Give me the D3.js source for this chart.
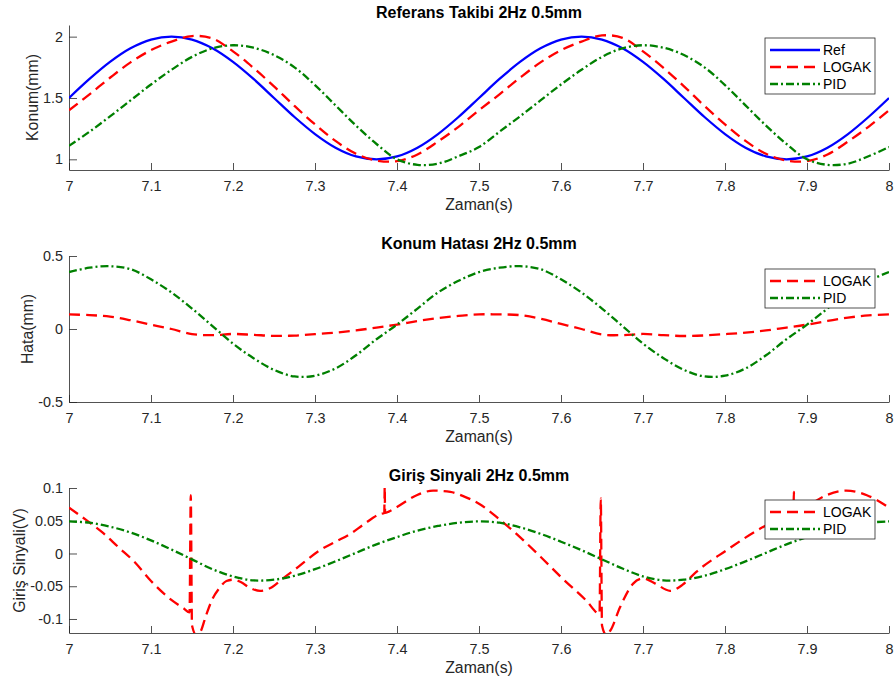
<!DOCTYPE html>
<html>
<head>
<meta charset="utf-8">
<script src="https://cdn.jsdelivr.net/npm/d3@7"></script>
<style>
body{margin:0;background:#fff;}
svg{display:block;font-family:"Liberation Sans",Arial,sans-serif;}
</style>
</head>
<body>
<script>
// time grid of the sampled curves (s)
var tGrid = [7.000,7.025,7.050,7.075,7.100,7.125,7.150,7.175,7.200,7.225,7.250,7.275,7.300,7.325,7.350,7.375,7.400,7.425,7.450,7.475,
  7.500,7.525,7.550,7.575,7.600,7.625,7.650,7.675,7.700,7.725,7.750,7.775,7.800,7.825,7.850,7.875,7.900,7.925,7.950,7.975,8.000];
var xTicks = [7,7.1,7.2,7.3,7.4,7.5,7.6,7.7,7.8,7.9,8];

// panel 1: position (mm)
var refPos = [1.500,1.655,1.794,1.905,1.976,2.000,1.976,1.905,1.794,1.655,1.500,1.345,1.206,1.095,1.024,1.000,1.024,1.095,1.206,1.345,
  1.500,1.655,1.794,1.905,1.976,2.000,1.976,1.905,1.794,1.655,1.500,1.345,1.206,1.095,1.024,1.000,1.024,1.095,1.206,1.345,1.500];
var logakPos = [1.40,1.53,1.665,1.79,1.89,1.96,2.005,1.985,1.88,1.745,1.595,1.435,1.285,1.15,1.045,0.99,0.985,1.04,1.145,1.265,
  1.40,1.53,1.665,1.79,1.89,1.96,2.01,1.99,1.88,1.745,1.595,1.435,1.285,1.15,1.045,0.99,0.985,1.04,1.145,1.265,1.40];
var pidPos = [1.11,1.225,1.35,1.48,1.61,1.73,1.835,1.905,1.93,1.91,1.85,1.75,1.605,1.44,1.275,1.125,1.00,0.955,0.965,1.025,
  1.10,1.225,1.35,1.48,1.61,1.73,1.835,1.905,1.93,1.91,1.85,1.75,1.605,1.44,1.275,1.125,1.00,0.955,0.965,1.025,1.10];

// panel 2: error (mm)
var logakErr = [0.10,0.095,0.085,0.06,0.03,0.0,-0.035,-0.042,-0.034,-0.04,-0.047,-0.045,-0.035,-0.025,-0.01,0.01,0.03,0.055,0.075,0.09,
  0.10,0.10,0.095,0.07,0.035,0.0,-0.038,-0.042,-0.034,-0.042,-0.048,-0.044,-0.035,-0.025,-0.01,0.01,0.03,0.055,0.078,0.093,0.10];
var pidErr = [0.39,0.42,0.43,0.41,0.34,0.25,0.14,0.02,-0.10,-0.20,-0.28,-0.325,-0.32,-0.27,-0.18,-0.07,0.03,0.14,0.25,0.33,
  0.39,0.42,0.43,0.41,0.34,0.25,0.14,0.02,-0.10,-0.20,-0.28,-0.325,-0.32,-0.27,-0.18,-0.07,0.03,0.14,0.25,0.33,0.39];

// panel 3: input signal (V)
var tLogakU = [7.000,7.020,7.040,7.060,7.080,7.100,7.120,7.140,7.147,7.1485,7.150,7.155,7.160,7.167,7.174,7.184,7.192,7.200,7.210,7.220,
  7.233,7.245,7.261,7.280,7.306,7.325,7.343,7.360,7.379,7.3845,7.385,7.3855,7.390,7.400,7.424,7.444,7.465,7.480,7.500,7.525,
  7.550,7.575,7.600,7.631,7.647,7.6485,7.650,7.655,7.660,7.672,7.688,7.700,7.715,7.733,7.748,7.765,7.802,7.843,7.865,7.883,
  7.8835,7.884,7.8845,7.900,7.924,7.948,7.973,8.000];
var logakU = [0.070,0.052,0.033,0.010,-0.013,-0.042,-0.066,-0.084,-0.090,0.089,-0.110,-0.124,-0.120,-0.095,-0.072,-0.052,-0.042,-0.040,-0.044,-0.052,
  -0.057,-0.053,-0.038,-0.020,0.005,0.018,0.030,0.045,0.060,0.062,0.102,0.062,0.064,0.071,0.089,0.096,0.094,0.088,0.076,0.052,
  0.025,-0.005,-0.036,-0.072,-0.092,0.084,-0.110,-0.124,-0.118,-0.082,-0.046,-0.038,-0.046,-0.057,-0.048,-0.028,0.005,0.038,0.052,0.060,
  0.062,0.094,0.062,0.072,0.089,0.096,0.089,0.070];
var pidU = [0.049,0.047,0.041,0.032,0.020,0.006,-0.009,-0.024,-0.035,-0.041,-0.040,-0.034,-0.024,-0.012,0.001,0.014,0.025,0.035,0.042,0.047,
  0.049,0.047,0.040,0.030,0.018,0.005,-0.009,-0.023,-0.035,-0.041,-0.040,-0.034,-0.024,-0.012,0.001,0.014,0.025,0.035,0.042,0.047,0.049];

var styleRef = {name:"Ref", color:"#0000ff", dash:null};
var styleLogak = {name:"LOGAK", color:"#ff0000", dash:"11,6"};
var stylePid = {name:"PID", color:"#008000", dash:"8,3,2,3"};

var width = 895, height = 683,
    left = 69, right = 889,
    axisColor = "#262626";

var svg = d3.select("body").append("svg")
  .attr("width", width)
  .attr("height", height);

var x = d3.scaleLinear().domain([7, 8]).range([left, right]);

function drawPanel(p, idx){
  var y = d3.scaleLinear().domain(p.yDomain).range([p.bottom, p.top]);
  var g = svg.append("g");

  g.append("clipPath").attr("id", "clip" + idx)
    .append("rect")
    .attr("x", left).attr("y", p.top)
    .attr("width", right - left).attr("height", p.bottom - p.top);

  var xAxis = d3.axisBottom(x).tickValues(xTicks).tickSize(-7).tickSizeOuter(0)
    .tickPadding(11).tickFormat(function(d){ return String(d); });
  var yAxis = d3.axisLeft(y).tickValues(p.yTicks).tickSize(-8).tickSizeOuter(0)
    .tickPadding(6).tickFormat(function(d){ return String(d); });

  var gx = g.append("g")
    .attr("transform", "translate(0," + p.bottom + ")")
    .call(xAxis);
  var gy = g.append("g")
    .attr("transform", "translate(" + left + ",0)")
    .call(yAxis);
  [gx, gy].forEach(function(a){
    a.selectAll("path,line").attr("stroke", axisColor).attr("stroke-width", 0.8);
    a.selectAll("text").attr("fill", axisColor).style("font-size", "14.4px");
  });

  //Lines
  var lines = g.append("g").attr("clip-path", "url(#clip" + idx + ")");
  p.series.forEach(function(s){
    var pts = s.t.map(function(t, i){ return [t, s.v[i]]; });
    lines.append("path")
      .datum(pts)
      .attr("fill", "none")
      .attr("stroke", s.style.color)
      .attr("stroke-width", 2.3)
      .attr("stroke-dasharray", s.style.dash)
      .attr("d", d3.line()
        .x(function(d){ return x(d[0]); })
        .y(function(d){ return y(d[1]); })
        .curve(s.curve || d3.curveCatmullRom.alpha(0.5)));
  });

  //Title and labels
  g.append("text")
    .attr("x", (left + right) / 2).attr("y", p.top - 7)
    .attr("text-anchor", "middle")
    .style("font-size", "16px").style("font-weight", "bold")
    .text(p.title);
  g.append("text")
    .attr("x", (left + right) / 2).attr("y", p.bottom + 40)
    .attr("text-anchor", "middle").attr("fill", axisColor)
    .style("font-size", "15.8px")
    .text("Zaman(s)");
  g.append("text")
    .attr("transform", "translate(" + p.ylabelX + "," + ((p.top + p.bottom) / 2) + ") rotate(-90)")
    .attr("text-anchor", "middle").attr("fill", axisColor)
    .style("font-size", "15.8px")
    .text(p.ylabel);

  //Legend
  var n = p.series.length;
  var lg = g.append("g").attr("transform", "translate(765," + p.legendTop + ")");
  lg.append("rect")
    .attr("x", 0).attr("y", 0).attr("width", 110).attr("height", 17 * n + 5)
    .attr("fill", "#fff").attr("stroke", axisColor).attr("stroke-width", 0.8);
  p.series.forEach(function(s, i){
    var yy = 12 + i * 17;
    lg.append("line")
      .attr("x1", 5).attr("x2", 55).attr("y1", yy).attr("y2", yy)
      .attr("stroke", s.style.color).attr("stroke-width", 2.3)
      .attr("stroke-dasharray", s.style.dash);
    lg.append("text")
      .attr("x", 58).attr("y", yy).attr("dy", "0.36em")
      .style("font-size", "14px")
      .text(s.style.name);
  });
}

var panels = [
  {top:25, bottom:170, yDomain:[0.913, 2.095], yTicks:[1, 1.5, 2],
   title:"Referans Takibi 2Hz 0.5mm", ylabel:"Konum(mm)", ylabelX:38, legendTop:38,
   series:[{t:tGrid, v:refPos, style:styleRef}, {t:tGrid, v:logakPos, style:styleLogak}, {t:tGrid, v:pidPos, style:stylePid}]},
  {top:256, bottom:402, yDomain:[-0.5, 0.5], yTicks:[-0.5, 0, 0.5],
   title:"Konum Hatası 2Hz 0.5mm", ylabel:"Hata(mm)", ylabelX:33, legendTop:269,
   series:[{t:tGrid, v:logakErr, style:styleLogak}, {t:tGrid, v:pidErr, style:stylePid}]},
  {top:488, bottom:633, yDomain:[-0.1214, 0.1], yTicks:[-0.1, -0.05, 0, 0.05, 0.1],
   title:"Giriş Sinyali 2Hz 0.5mm", ylabel:"Giriş Sinyali(V)", ylabelX:25, legendTop:500,
   series:[{t:tLogakU, v:logakU, style:styleLogak, curve:d3.curveMonotoneX}, {t:tGrid, v:pidU, style:stylePid}]}
];

panels.forEach(drawPanel);
</script>
</body>
</html>
